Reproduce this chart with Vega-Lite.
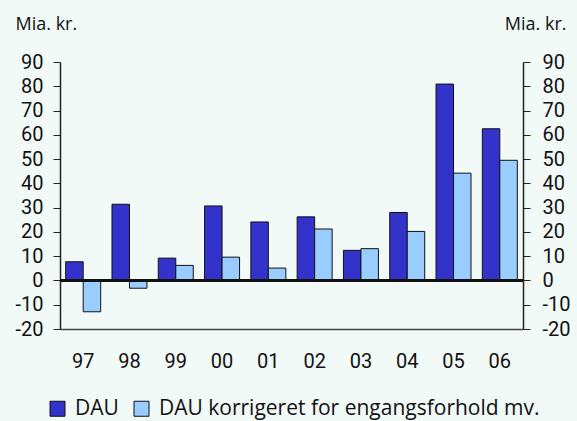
{
  "$schema": "https://vega.github.io/schema/vega-lite/v6.json",
  "width": 463,
  "height": 267,
  "autosize": "none",
  "padding": {"left": 60, "top": 62, "right": 54, "bottom": 92},
  "background": "#f2faf7",
  "config": {
    "view": {"stroke": null},
    "font": "Open Sans",
    "axis": {"labelFont": "Roboto", "titleFont": "Open Sans", "labelColor": "#111", "titleColor": "#111", "grid": false},
    "legend": {"labelFont": "Open Sans"}
  },
  "data": {"values": [
    {"year": "97", "series": "DAU", "value": 7.7},
    {"year": "97", "series": "DAU korrigeret for engangsforhold mv.", "value": -12.9},
    {"year": "98", "series": "DAU", "value": 31.4},
    {"year": "98", "series": "DAU korrigeret for engangsforhold mv.", "value": -3.2},
    {"year": "99", "series": "DAU", "value": 9.2},
    {"year": "99", "series": "DAU korrigeret for engangsforhold mv.", "value": 6.2},
    {"year": "00", "series": "DAU", "value": 30.7},
    {"year": "00", "series": "DAU korrigeret for engangsforhold mv.", "value": 9.6},
    {"year": "01", "series": "DAU", "value": 24.1},
    {"year": "01", "series": "DAU korrigeret for engangsforhold mv.", "value": 5.1},
    {"year": "02", "series": "DAU", "value": 26.2},
    {"year": "02", "series": "DAU korrigeret for engangsforhold mv.", "value": 21.2},
    {"year": "03", "series": "DAU", "value": 12.4},
    {"year": "03", "series": "DAU korrigeret for engangsforhold mv.", "value": 13.1},
    {"year": "04", "series": "DAU", "value": 28.0},
    {"year": "04", "series": "DAU korrigeret for engangsforhold mv.", "value": 20.2},
    {"year": "05", "series": "DAU", "value": 80.9},
    {"year": "05", "series": "DAU korrigeret for engangsforhold mv.", "value": 44.2},
    {"year": "06", "series": "DAU", "value": 62.5},
    {"year": "06", "series": "DAU korrigeret for engangsforhold mv.", "value": 49.5}
  ]},
  "layer": [
    {
      "mark": {"type": "bar", "stroke": "#111", "strokeWidth": 1},
      "encoding": {
        "x": {
          "field": "year", "type": "nominal", "sort": null,
          "scale": {"paddingInner": 0.244, "paddingOuter": 0.123},
          "axis": {"title": null, "labelAngle": 0, "ticks": false, "domain": true, "domainColor": "#444", "domainWidth": 1.5, "labelFontSize": 20, "labelPadding": 22}
        },
        "xOffset": {"field": "series", "type": "nominal", "sort": null},
        "y": {
          "field": "value", "type": "quantitative",
          "scale": {"domain": [-20, 90], "nice": false, "zero": false},
          "axis": {
            "title": "Mia. kr.", "titleAngle": 0, "titleAlign": "left", "titleBaseline": "middle",
            "titleX": -45, "titleY": -38, "titleFontSize": 18, "titleFontWeight": "normal",
            "values": [-20, -10, 0, 10, 20, 30, 40, 50, 60, 70, 80, 90],
            "labelExpr": "'' + datum.value",
            "labelFontSize": 20, "labelPadding": 10, "tickSize": 7, "tickColor": "#222", "domainColor": "#222", "domainWidth": 1.5
          }
        },
        "color": {
          "field": "series", "type": "nominal", "sort": null,
          "scale": {"range": ["#3333cc", "#99ccff"]},
          "legend": {
            "title": null, "orient": "none", "direction": "horizontal",
            "legendX": -13, "legendY": 336,
            "symbolType": "square", "symbolSize": 225, "symbolStrokeColor": "#111", "symbolStrokeWidth": 1,
            "labelFontSize": 21, "labelColor": "#111", "labelLimit": 0, "columnPadding": 12, "labelOffset": 7
          }
        }
      }
    },
    {
      "mark": {"type": "rule", "color": "#111", "strokeWidth": 1.5},
      "encoding": {
        "y": {
          "datum": 0, "type": "quantitative",
          "axis": {
            "orient": "right",
            "title": "Mia. kr.", "titleAngle": 0, "titleAlign": "right", "titleBaseline": "middle",
            "titleX": 43, "titleY": -38, "titleFontSize": 18, "titleFontWeight": "normal",
            "values": [-20, -10, 0, 10, 20, 30, 40, 50, 60, 70, 80, 90],
            "labelExpr": "'' + datum.value",
            "labelFontSize": 20, "labelPadding": 12, "tickSize": 7, "tickColor": "#222", "domainColor": "#222", "domainWidth": 1.5
          }
        }
      }
    }
  ],
  "resolve": {"axis": {"y": "independent"}}
}
